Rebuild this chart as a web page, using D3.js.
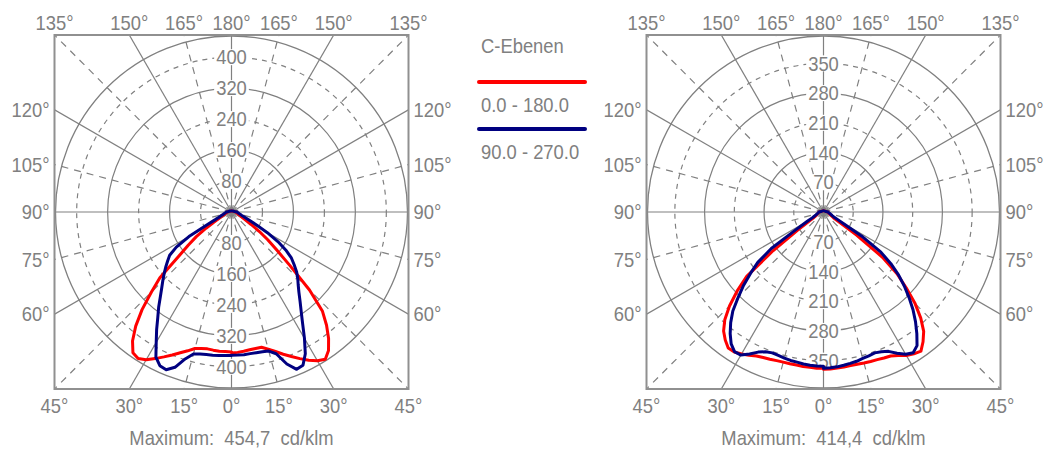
<!DOCTYPE html>
<html><head><meta charset="utf-8">
<script src="https://cdn.jsdelivr.net/npm/d3@7"></script>
<style>
body{margin:0;background:#fff;}
svg text{font-family:"Liberation Sans",Arial,sans-serif;font-size:20px;fill:#808080;}
</style></head><body>
<svg id="chart" width="1049" height="450"></svg>
<script>
// gamma angles (deg from nadir)
const gammaAngles = [0,2.5,5,7.5,10,12.5,15,17.5,20,22.5,25,27.5,30,32.5,35,37.5,40,42.5,45,47.5,50,52.5,55,57.5,60,62.5,65,67.5,70,72.5,75,77.5,80,82.5,85,87.5,90,100,120,150,180];

// Left diagram (cd/klm)
const leftC180 = [362,361,361,360,359,361,365,376,387,400,413,427,441,449,444,420,385,342,293,251,178,141,111,78,52,38,30,25,21,19,17,15,14,13,12,11,11,7,4,3,3];
const leftC0   = [364,363,361,359,358,358,367,378,391,404,418,432,444,451,437,412,382,348,285,205,152,118,88,60,42,33,27,23,20,18,16,15,14,13,12,11,11,7,4,3,3];
const leftC270 = [371,371,372,373,374,376,380,398,427,441,438,423,389,360,332,309,286,267,251,236,222,208,195,169,127,70,45,35,29,25,22,20,18,17,15,14,13,8,5,3,3];
const leftC90  = [370,370,370,369,369,370,372,384,418,440,437,413,377,342,314,291,271,255,242,228,211,195,171,142,107,75,52,40,32,27,24,21,19,17,16,15,14,8,5,3,3];

// Right diagram (cd/klm)
const rightC180 = [368,368,367,367,366,366,366,367,369,371,374,380,386,391,391,380,366,344,313,276,236,150,75,38,26,22,19,17,16,15,14,13,12,12,11,11,10,6,4,3,3];
const rightC0   = [370,370,369,368,367,367,368,369,370,372,374,381,390,396,400,385,367,339,305,264,226,175,95,40,27,23,20,18,16,15,14,13,12,12,11,11,10,6,4,3,3];
const rightC270 = [363,363,362,361,359,358,356,354,353,356,364,377,389,390,379,361,340,316,284,255,224,195,150,75,45,30,24,21,18,17,15,14,13,12,12,11,11,6,4,3,3];
const rightC90  = [368,367,366,364,362,360,357,355,353,356,362,375,387,393,384,361,337,312,285,258,231,200,165,110,55,35,26,22,20,18,16,15,13,12,12,11,11,6,4,3,3];

const leftMax = 454.7, rightMax = 414.4;
const leftTicks = [80,160,240,320,400];
const rightTicks = [70,140,210,280,350];
const topAngleLabels = ["135°","150°","165°","180°","165°","150°","135°"];
const sideAngleLabels = ["120°","105°","90°","75°","60°"];
const bottomAngleLabels = ["45°","30°","15°","0°","15°","30°","45°"];
const legendTitle = "C-Ebenen";
const planeNames = ["0.0 - 180.0","90.0 - 270.0"];
const planeColors = ["#ff0000","#000080"];

const svg = d3.select("#chart");
const defs = svg.append("defs");
const GRID = "#808080";
const SX = 0.92;

function addText(parent, x, y, str, anchor, dy){
  return parent.append("text")
    .attr("transform", `translate(${x},${y}) scale(${SX},1)`)
    .attr("text-anchor", anchor || "start")
    .attr("dy", dy || null)
    .style("white-space","pre")
    .text(str);
}

function drawDiagram(id, cx, cy, maxVal, ticks, series, maxLabel){
  const half = 177, R = 176;
  const r = d3.scaleLinear().domain([0, maxVal]).range([0, R]);
  const g = svg.append("g").attr("transform", `translate(${cx},${cy})`);
  defs.append("clipPath").attr("id", id).append("rect")
    .attr("x", -half).attr("y", -half).attr("width", 2*half).attr("height", 2*half);
  const grid = g.append("g").attr("clip-path", `url(#${id})`);

  // radial lines
  d3.range(0, 360, 15).forEach(a => {
    const rad = a*Math.PI/180;
    const dashed = (a % 30) === 15;
    grid.append("line")
      .attr("x1", 0).attr("y1", 0)
      .attr("x2", 400*Math.sin(rad)).attr("y2", 400*Math.cos(rad))
      .attr("stroke", GRID).attr("stroke-width", 1.2)
      .attr("stroke-dasharray", dashed ? "7,6" : null);
  });
  // circles
  ticks.forEach((t,i) => {
    grid.append("circle").attr("r", r(t)).attr("fill","none")
      .attr("stroke", GRID).attr("stroke-width", 1.2)
      .attr("stroke-dasharray", i%2===0 ? "5,5" : null);
  });
  grid.append("circle").attr("r", r(maxVal)).attr("fill","none")
    .attr("stroke", GRID).attr("stroke-width", 1.3);

  // frame
  g.append("rect").attr("x", -half).attr("y", -half).attr("width", 2*half).attr("height", 2*half)
    .attr("fill","none").attr("stroke","#909090").attr("stroke-width",2);

  // intensity labels with background
  const lab = g.append("g");
  ticks.forEach(t => {
    [-1, 1].forEach(s => {
      const tx = addText(lab, 0, s*r(t), String(t), "middle", "0.36em");
      const bb = tx.node().getBBox();
      const w = bb.width*SX;
      lab.insert("rect","text")
        .attr("x", -w/2-2).attr("y", s*r(t)-8).attr("width", w+4).attr("height", 16)
        .attr("fill","#fff");
    });
  });
  lab.selectAll("text").raise();

  // curves
  const line = d3.lineRadial().angle(d => d.a).radius(d => r(d.v)).curve(d3.curveLinearClosed);
  series.forEach(s => {
    const pts = [];
    for (let i = gammaAngles.length-1; i >= 0; i--) pts.push({a: Math.PI + gammaAngles[i]*Math.PI/180, v: s.left[i]});
    for (let i = 0; i < gammaAngles.length; i++) pts.push({a: Math.PI - gammaAngles[i]*Math.PI/180, v: s.right[i]});
    g.append("path").attr("d", line(pts)).attr("fill","none")
      .attr("stroke", s.color).attr("stroke-width", 3).attr("stroke-linejoin","round");
  });

  // angle labels
  const offs = [-45,-30,-15,0,15,30,45];
  topAngleLabels.forEach((t,i) => {
    addText(g, half*Math.tan(offs[i]*Math.PI/180), -half-5, t, "middle");
  });
  bottomAngleLabels.forEach((t,i) => {
    addText(g, half*Math.tan(offs[i]*Math.PI/180), half+24, t, "middle");
  });
  const sideOffs = [30,15,0,-15,-30];
  sideAngleLabels.forEach((t,i) => {
    const y = -half*Math.tan(sideOffs[i]*Math.PI/180);
    addText(g, -half-5, y, t, "end", "0.36em");
    addText(g, half+5, y, t, "start", "0.36em");
  });
  addText(g, 0, half+56, maxLabel, "middle");
}

drawDiagram("clipL", 231.5, 212, leftMax, leftTicks, [
  {left: leftC180, right: leftC0, color: planeColors[0]},
  {left: leftC270, right: leftC90, color: planeColors[1]}
], "Maximum:  454,7  cd/klm");

drawDiagram("clipR", 823.5, 212, rightMax, rightTicks, [
  {left: rightC180, right: rightC0, color: planeColors[0]},
  {left: rightC270, right: rightC90, color: planeColors[1]}
], "Maximum:  414,4  cd/klm");

// legend
const lg = svg.append("g");
addText(lg, 481, 53, legendTitle, "start");
planeNames.forEach((n,i) => {
  const y = 82 + i*47;
  lg.append("line").attr("x1", 479).attr("x2", 585).attr("y1", y).attr("y2", y)
    .attr("stroke", planeColors[i]).attr("stroke-width", 4).attr("stroke-linecap","round");
  addText(lg, 481, y+23, n, "start", "0.36em");
});
</script>
</body></html>
